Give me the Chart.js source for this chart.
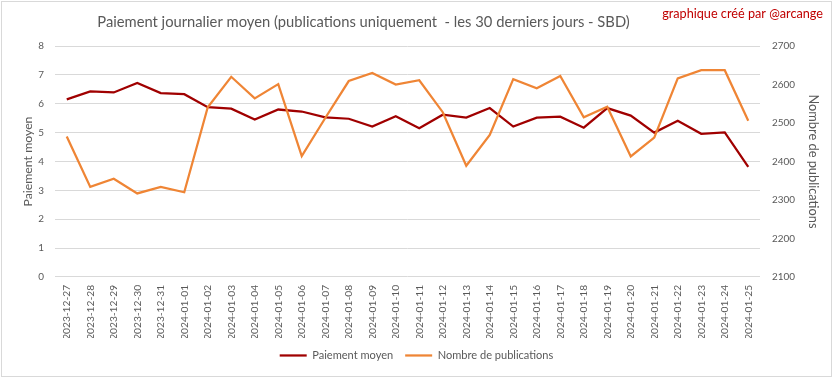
<!DOCTYPE html>
<html>
<head>
<meta charset="utf-8">
<script src="https://cdn.jsdelivr.net/npm/chart.js@4.4.1/dist/chart.umd.min.js"></script>
<style>
  html, body { margin: 0; padding: 0; background: #fff; }
  #wrap { width: 833px; height: 379px; position: relative; }
</style>
</head>
<body>
<div id="wrap"><canvas id="c" width="833" height="379"></canvas></div>
<script>
const categories = [
  '2023-12-27','2023-12-28','2023-12-29','2023-12-30','2023-12-31',
  '2024-01-01','2024-01-02','2024-01-03','2024-01-04','2024-01-05',
  '2024-01-06','2024-01-07','2024-01-08','2024-01-09','2024-01-10',
  '2024-01-11','2024-01-12','2024-01-13','2024-01-14','2024-01-15',
  '2024-01-16','2024-01-17','2024-01-18','2024-01-19','2024-01-20',
  '2024-01-21','2024-01-22','2024-01-23','2024-01-24','2024-01-25'
];
const paiementMoyen = [
  6.15, 6.43, 6.39, 6.72, 6.37, 6.33, 5.88, 5.83, 5.45, 5.80,
  5.73, 5.53, 5.48, 5.21, 5.57, 5.15, 5.62, 5.52, 5.85, 5.21,
  5.52, 5.55, 5.17, 5.85, 5.59, 5.00, 5.41, 4.96, 5.01, 3.81
];
const nombrePublications = [
  2465, 2334, 2355, 2317, 2334, 2320, 2541, 2620, 2564, 2601,
  2414, 2513, 2609, 2630, 2600, 2611, 2528, 2389, 2469, 2614,
  2590, 2622, 2515, 2542, 2413, 2462, 2616, 2637, 2637, 2506
];
const leftAxisRange = [0, 8, 1];
const rightAxisRange = [2100, 2700, 100];

const titleText = 'Paiement journalier moyen (publications uniquement  - les 30 derniers jours - SBD)';
const creditText = 'graphique créé par @arcange';
const leftAxisTitle = 'Paiement moyen';
const rightAxisTitle = 'Nombre de publications';
const seriesNames = ['Paiement moyen', 'Nombre de publications'];

const FAMILY = 'Lato, "Open Sans", sans-serif';
const measureCtx = document.createElement('canvas').getContext('2d');
function fitSize(text, target) {
  measureCtx.font = '100px ' + FAMILY;
  return 100 * target / measureCtx.measureText(text).width;
}
const titleSize = fitSize(titleText, 533);
const creditSize = fitSize(creditText, 161);
const legendSize = fitSize(seriesNames[0], 81);
const yTitleSize = fitSize(leftAxisTitle, 90);
const y1TitleSize = fitSize(rightAxisTitle, 134);
const tickSize = fitSize('2700', 23);
const xTickSize = fitSize('2023-12-27', 55);

const GRAY = '#595959';
const RED = '#A00000';
const ORANGE = '#EF8535';

const PAD = {top: 46, left: 10, right: 10, bottom: 8};

const decor = {
  id: 'decor',
  beforeDraw(chart) {
    const ctx = chart.ctx;
    ctx.save();
    ctx.fillStyle = '#fff';
    ctx.fillRect(0, 0, chart.width, chart.height);
    ctx.strokeStyle = '#D9D9D9';
    ctx.lineWidth = 1;
    ctx.strokeRect(1.5, 1.5, 830, 375);
    ctx.restore();
  },
  afterDraw(chart) {
    const ctx = chart.ctx;
    ctx.save();
    ctx.textBaseline = 'alphabetic';
    ctx.font = titleSize + 'px ' + FAMILY;
    ctx.fillStyle = GRAY;
    ctx.textAlign = 'center';
    ctx.fillText(titleText, 363.5, 26.5);
    ctx.font = creditSize + 'px ' + FAMILY;
    ctx.fillStyle = '#C00000';
    ctx.textAlign = 'right';
    ctx.fillText(creditText, 823, 18);
    ctx.restore();
  }
};

const yLH = yTitleSize * 1.2;
const y1LH = y1TitleSize * 1.2;

new Chart(document.getElementById('c'), {
  type: 'line',
  data: {
    labels: categories,
    datasets: [
      {
        label: seriesNames[0],
        data: paiementMoyen,
        borderColor: RED,
        backgroundColor: RED,
        borderWidth: 2.25,
        pointRadius: 0,
        tension: 0,
        yAxisID: 'y',
        order: 1
      },
      {
        label: seriesNames[1],
        data: nombrePublications,
        borderColor: ORANGE,
        backgroundColor: ORANGE,
        borderWidth: 2.25,
        pointRadius: 0,
        tension: 0,
        yAxisID: 'y1',
        order: 0
      }
    ]
  },
  options: {
    responsive: false,
    animation: false,
    devicePixelRatio: 1,
    layout: { padding: PAD },
    plugins: {
      title: { display: false },
      tooltip: { enabled: false },
      legend: {
        display: true,
        position: 'bottom',
        labels: {
          usePointStyle: true,
          pointStyle: 'line',
          pointStyleWidth: 27,
          color: GRAY,
          font: { family: FAMILY, size: legendSize },
          padding: 12,
          sort: (a, b) => a.datasetIndex - b.datasetIndex
        }
      }
    },
    scales: {
      x: {
        type: 'category',
        offset: true,
        grid: { display: false, drawTicks: false },
        border: { display: false },
        ticks: {
          autoSkip: false,
          maxRotation: 90,
          minRotation: 90,
          padding: 8,
          color: GRAY,
          font: { family: FAMILY, size: xTickSize }
        },
        afterFit(scale) { scale.height = 61; }
      },
      y: {
        type: 'linear',
        position: 'left',
        min: leftAxisRange[0],
        max: leftAxisRange[1],
        ticks: {
          stepSize: leftAxisRange[2],
          padding: 11,
          color: GRAY,
          font: { family: FAMILY, size: tickSize },
          callback: (v) => String(v)
        },
        grid: { color: '#D9D9D9', lineWidth: 1, drawTicks: false },
        border: { display: false },
        title: {
          display: true,
          text: leftAxisTitle,
          color: GRAY,
          font: { family: FAMILY, size: yTitleSize },
          padding: { top: 28 - PAD.left - yLH / 2, bottom: 0 }
        },
        afterFit(scale) { scale.width = 55 - PAD.left; }
      },
      y1: {
        type: 'linear',
        position: 'right',
        min: rightAxisRange[0],
        max: rightAxisRange[1],
        ticks: {
          stepSize: rightAxisRange[2],
          padding: 12,
          color: GRAY,
          font: { family: FAMILY, size: tickSize },
          callback: (v) => String(v)
        },
        grid: { display: false, drawTicks: false },
        border: { display: false },
        title: {
          display: true,
          text: rightAxisTitle,
          color: GRAY,
          font: { family: FAMILY, size: y1TitleSize },
          padding: { top: (833 - PAD.right) - 813 - y1LH / 2, bottom: 0 }
        },
        afterFit(scale) { scale.width = 833 - PAD.right - 760; }
      }
    }
  },
  plugins: [decor]
});
</script>
</body>
</html>
